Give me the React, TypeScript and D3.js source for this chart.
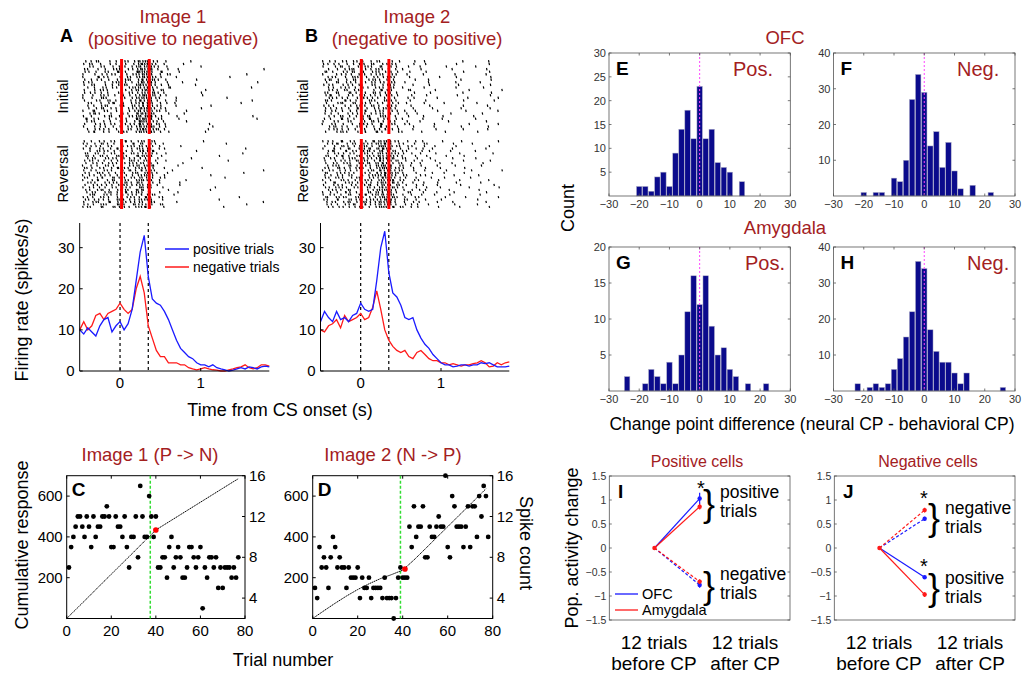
import React from "react";
import * as d3 from "d3";

const FONT = "'Liberation Sans', Arial, Helvetica, sans-serif";
const DARK_RED = "#a3201e";
const BLUE = "#1a1aff";
const RED = "#ff1a1a";
const NAVY = "#0b0b8c";
const GREEN = "#33dd33";
const MAGENTA = "#ff44ff";

// ---- A / B : firing rate curves (spikes/s), sampled every 50 ms
const rateTimes = [-0.5, -0.45, -0.4, -0.35, -0.3, -0.25, -0.2, -0.15, -0.1, -0.05, 0, 0.05, 0.1, 0.15, 0.2, 0.25, 0.3, 0.35, 0.4, 0.45, 0.5, 0.55, 0.6, 0.65, 0.7, 0.75, 0.8, 0.85, 0.9, 0.95, 1.0, 1.05, 1.1, 1.15, 1.2, 1.25, 1.3, 1.35, 1.4, 1.45, 1.5, 1.55, 1.6, 1.65, 1.7, 1.75, 1.8, 1.85];
const rateA_pos = [10, 9, 10.5, 9.5, 8.5, 11, 12.5, 13, 9.5, 11, 12, 10, 11.5, 15, 22, 29, 33, 23, 17.5, 16.5, 16, 14.5, 12.5, 10, 7.5, 5.5, 4.5, 3.5, 3, 2, 1.5, 1.5, 1, 1.5, 0.8, 0.5, 0.3, 0, 0.2, 0.5, 0.8, 0.5, 1, 0.8, 0.5, 1, 1.2, 1];
const rateA_neg = [10, 12, 10, 11, 13.5, 14, 12.5, 14, 14.5, 15, 16.5, 15, 14, 15, 20, 23, 19, 11, 8, 5, 3.5, 3.5, 2, 2, 2, 1.5, 1.5, 0.8, 0.5, 0.3, 0.5, 0.8, 0.5, 0.3, 0.2, 0, 0, 0.3, 0.5, 0.8, 1, 1.5, 0.8, 0.5, 0.8, 1.5, 1.5, 1.2];
const rateB_pos = [12, 14.5, 13, 12, 14.5, 12.5, 13, 12, 13.5, 14, 16.5, 15, 14.5, 15, 22, 30, 34, 24, 19, 18, 16, 13, 12.5, 13, 10, 8, 6.5, 5.5, 4, 3, 2, 1.5, 1.5, 1, 1.2, 1.5, 1.5, 1.2, 1.5, 1.5, 2, 1.8, 2, 1.5, 1, 1, 1, 1.2];
const rateB_neg = [10, 9.5, 11, 11.5, 12.5, 10.5, 13.5, 12, 12.5, 13, 14, 12.5, 13, 15.5, 19.5, 15, 10, 7.5, 6, 5, 4.5, 5, 3.5, 3, 4.5, 5, 4, 3, 2.5, 2.5, 2, 2, 1.5, 1.8, 1.5, 1.2, 1.5, 1.5, 1.8, 2, 2.5, 2, 1, 1.2, 2, 1.5, 2, 2.2];
const rateTicksY = [0, 10, 20, 30];
const rateTicksX = [0, 1];
const eventTimes = [0, 0.35];

// ---- raster density per 100 ms bin (spikes/s), read from the raster shading
const RASTER_BIN = 0.1;
const RASTER_TRIALS = 28;
const rasterBins = [-0.5, -0.4, -0.3, -0.2, -0.1, 0, 0.1, 0.2, 0.3, 0.4, 0.5, 0.6, 0.7, 0.8, 0.9, 1.0, 1.1, 1.2, 1.3, 1.4, 1.5, 1.6, 1.7];
const rasterA_initial = [12, 13, 13, 12, 12, 13, 15, 33, 30, 15, 8, 4, 2.5, 1.2, 1, 0.8, 0.8, 0.6, 0.6, 0.8, 0.8, 1, 1];
const rasterA_reversal = [14, 15, 15, 15, 16, 17, 16, 24, 20, 8, 4, 2.5, 1.5, 1, 0.8, 0.6, 0.6, 0.8, 0.6, 0.8, 1, 1, 0.8];
const rasterB_initial = [12, 13, 13, 13, 13, 14, 14, 18, 14, 9, 7, 5, 4, 3, 3, 2.5, 2.5, 2.5, 2.5, 2.5, 2.5, 2.5, 2.5];
const rasterB_reversal = [14, 14, 15, 15, 16, 16, 17, 30, 30, 16, 12, 9, 7, 5, 4, 4, 3.5, 3, 3, 2.5, 2, 2, 2];

// ---- C / D : spike count per trial and cumulative response
const trialTicks = [0, 20, 40, 60, 80];
const cumTicks = [200, 400, 600];
const spikeTicks = [4, 8, 12, 16];
const spikesC = [7, 9, 10, 11, 12, 12, 11, 10, 12, 11, 9, 12, 10, 11, 11, 12, 12, 13, 12, 9, 9, 12, 11, 11, 10, 12, 9, 7, 10, 10, 12, 8, 15, 12, 10, 10, 14, 12, 10, 12, 7, 7, 8, 8, 6, 9, 10, 7, 8, 9, 8, 6, 6, 7, 9, 9, 8, 7, 8, 9, 3, 7, 6, 8, 8, 7, 8, 5, 7, 5, 7, 7, 7, 6, 7, 6, 8];
const cumTrialsC = [0, 5, 10, 15, 20, 25, 30, 35, 40, 45, 50, 55, 60, 65, 70, 75, 77];
const cumC = [0, 54, 108, 163, 217, 271, 325, 380, 434, 468, 502, 536, 570, 604, 638, 672, 685];
const spikesD = [5, 4, 9, 7, 8, 7, 5, 8, 10, 9, 7, 8, 7, 7, 5, 7, 6, 6, 6, 7, 4, 6, 5, 5, 6, 4, 5, 5, 5, 5, 4, 6, 4, 4, 4, 2, 4, 6, 7, 6, 6, 6, 11, 9, 13, 10, 11, 11, 13, 8, 8, 11, 10, 10, 11, 12, 11, 11, 16, 9, 8, 14, 13, 11, 11, 11, 9, 11, 13, 9, 13, 13, 10, 14, 12, 15, 14, 10];
const cumTrialsD = [0, 5, 10, 15, 20, 25, 30, 35, 40, 45, 50, 55, 60, 65, 70, 75, 77];
const cumD = [0, 38, 75, 110, 142, 170, 195, 215, 237, 287, 341, 396, 450, 505, 559, 614, 636];
const cpC = 37.5;
const cpD = 39;
const markC = [40, 434];
const markD = [41, 243];

// ---- E-H : change point difference histograms
const binCenters = [-24, -22, -20, -18, -16, -14, -12, -10, -8, -6, -4, -2, 0, 2, 4, 6, 8, 10, 12, 14, 16, 18, 20, 22, 24, 26];
const histE = [0, 0, 2, 2, 1, 4, 5, 2, 9, 14, 18, 12, 23, 12, 14, 7, 6, 5, 0, 3, 0, 0, 0, 0, 0, 0];
const histF = [0, 0, 1, 0, 1, 1, 0, 5, 4, 10, 27, 34, 29, 14, 18, 8, 15, 7, 2, 0, 3, 0, 0, 1, 0, 0];
const histG = [2, 0, 0, 1, 3, 2, 1, 4, 1, 5, 11, 16, 12, 16, 9, 5, 6, 3, 2, 0, 1, 0, 0, 1, 0, 0];
const histH = [0, 2, 0, 1, 2, 1, 2, 6, 9, 15, 22, 36, 34, 17, 11, 8, 8, 5, 2, 5, 0, 0, 0, 0, 0, 1];
const histXTicks = [-30, -20, -10, 0, 10, 20, 30];
const histYTicks30 = [5, 10, 15, 20, 25, 30];
const histYTicks40 = [10, 20, 30, 40];
const histYTicks20 = [5, 10, 15, 20];

// ---- I / J : population activity change (before CP, after CP)
const popX = [1, 2];
const popYTicks = [-1.5, -1, -0.5, 0, 0.5, 1, 1.5];
const iOfcPos = [0, 1.03];
const iAmyPos = [0, 0.86];
const iOfcNeg = [0, -0.77];
const iAmyNeg = [0, -0.7];
const iErr = [0.12, 0.06, 0.06, 0.05];
const jOfcNeg = [0, 0.61];
const jAmyNeg = [0, 0.79];
const jOfcPos = [0, -0.61];
const jAmyPos = [0, -0.97];
const jErr = [0.04, 0.05, 0.03, 0.05];

const fmt = d3.format("");

const frac = (v: number) => v - Math.floor(v);
// fixed hash, only used to spread ticks inside their bin (no Math.random)
const spread = (a: number, b: number, c: number) => frac(Math.sin(a * 12.9898 + b * 78.233 + c * 37.719) * 43758.5453);

// spike counts per row/bin come from the rates table
function rasterPath(rates: number[], x: d3.ScaleLinear<number, number>, y0: number, y1: number, seed: number) {
  const rowH = (y1 - y0) / RASTER_TRIALS;
  const parts: string[] = [];
  for (let r = 0; r < RASTER_TRIALS; r++) {
    let carry = spread(r, seed, 0.5);
    rates.forEach((rate, b) => {
      carry += rate * RASTER_BIN;
      const n = Math.floor(carry);
      carry -= n;
      for (let k = 0; k < n; k++) {
        const u = spread(r + seed * 31, b, k + 1);
        const t = rasterBins[b] + (RASTER_BIN * (k + u)) / n;
        const yy = y0 + r * rowH + 0.2;
        parts.push(`M${x(t).toFixed(1)},${yy.toFixed(1)}l0.5,${(rowH - 0.3).toFixed(1)}`);
      }
    });
  }
  return parts.join("");
}

function Raster({ left, right, initial, reversal, labelX, seed }: any) {
  const x = d3.scaleLinear().domain([-0.5, 1.8]).range([left, right]);
  const blocks = [
    { rates: initial, y0: 60, y1: 133, label: "Initial" },
    { rates: reversal, y0: 140, y1: 208, label: "Reversal" },
  ];
  return (
    <g>
      {blocks.map((b, i) => (
        <g key={b.label}>
          <path d={rasterPath(b.rates, x, b.y0, b.y1, seed + i)} stroke="#000" strokeWidth={1.2} fill="none" />
          {eventTimes.map((t) => (
            <line key={t} x1={x(t)} x2={x(t)} y1={b.y0 - 1} y2={b.y1 + 1} stroke="#ff0000" strokeWidth={3} />
          ))}
          <text transform={`translate(${labelX},${(b.y0 + b.y1) / 2}) rotate(-90)`} textAnchor="middle" fontSize={14.5}>
            {b.label}
          </text>
        </g>
      ))}
    </g>
  );
}

function RatePanel({ left, right, pos, neg, legend }: any) {
  const x = d3.scaleLinear().domain([-0.5, 1.85]).range([left, right]);
  const y = d3.scaleLinear().domain([0, 36]).range([371, 223]);
  const line = d3.line<number>().x((_, i) => x(rateTimes[i])).y((d) => y(d));
  return (
    <g>
      {eventTimes.map((t) => (
        <line key={t} x1={x(t)} x2={x(t)} y1={y(36)} y2={y(0)} stroke="#000" strokeWidth={1.2} strokeDasharray="3,3" />
      ))}
      <path d={line(neg) || ""} stroke={RED} strokeWidth={1.3} fill="none" />
      <path d={line(pos) || ""} stroke={BLUE} strokeWidth={1.3} fill="none" />
      <line x1={x(-0.5)} x2={x(-0.5)} y1={y(36)} y2={y(0)} stroke="#000" />
      <line x1={x(-0.5)} x2={x(1.85)} y1={y(0)} y2={y(0)} stroke="#000" />
      {rateTicksY.map((v) => (
        <g key={v}>
          <line x1={x(-0.5)} x2={x(-0.5) + 3} y1={y(v)} y2={y(v)} stroke="#000" />
          <text x={x(-0.5) - 5} y={y(v) + 5} textAnchor="end" fontSize={15}>{v}</text>
        </g>
      ))}
      {rateTicksX.map((v) => (
        <g key={v}>
          <line x1={x(v)} x2={x(v)} y1={y(0)} y2={y(0) - 3} stroke="#000" />
          <text x={x(v)} y={y(0) + 17} textAnchor="middle" fontSize={15}>{v}</text>
        </g>
      ))}
      {legend && (
        <g fontSize={14}>
          <line x1={165} x2={189} y1={249} y2={249} stroke={BLUE} strokeWidth={1.5} />
          <text x={193} y={254}>positive trials</text>
          <line x1={165} x2={189} y1={267} y2={267} stroke={RED} strokeWidth={1.5} />
          <text x={193} y={272}>negative trials</text>
        </g>
      )}
    </g>
  );
}

function TrialPanel({ left, right, spikes, cumTrials, cum, cp, mark, letter }: any) {
  const top = 475.7;
  const bottom = 618.5;
  const x = d3.scaleLinear().domain([0, 80]).range([left, right]);
  const yL = d3.scaleLinear().domain([0, 700]).range([bottom, top]);
  const yR = d3.scaleLinear().domain([2, 16]).range([bottom, top]);
  const line = d3.line<number>().x((_, i) => x(cumTrials[i])).y((d) => yL(d));
  return (
    <g>
      <rect x={left} y={top} width={right - left} height={bottom - top} fill="none" stroke="#000" strokeWidth={1} />
      {trialTicks.map((v) => (
        <g key={v}>
          <line x1={x(v)} x2={x(v)} y1={bottom} y2={bottom - 3} stroke="#000" />
          <line x1={x(v)} x2={x(v)} y1={top} y2={top + 3} stroke="#000" />
          <text x={x(v)} y={bottom + 17} textAnchor="middle" fontSize={15}>{v}</text>
        </g>
      ))}
      {cumTicks.map((v) => (
        <g key={v}>
          <line x1={left} x2={left + 3} y1={yL(v)} y2={yL(v)} stroke="#000" />
          <text x={left - 4} y={yL(v) + 5} textAnchor="end" fontSize={15}>{v}</text>
        </g>
      ))}
      {spikeTicks.map((v) => (
        <g key={v}>
          <line x1={right} x2={right - 3} y1={yR(v)} y2={yR(v)} stroke="#000" />
          <text x={right + 4} y={yR(v) + 5} fontSize={15}>{v}</text>
        </g>
      ))}
      <line x1={x(cp)} x2={x(cp)} y1={top} y2={bottom} stroke={GREEN} strokeWidth={1.5} strokeDasharray="3,2" />
      <path d={line(cum) || ""} stroke="#000" strokeWidth={1} strokeDasharray="1.5,0.6" fill="none" />
      {spikes.map((s: number, i: number) => (
        <circle key={i} cx={x(i + 1)} cy={yR(s)} r={2.4} fill="#000" />
      ))}
      <circle cx={x(mark[0])} cy={yL(mark[1])} r={2.8} fill="#ff0000" />
      <text x={left + 5} y={top + 20} fontSize={19} fontWeight="bold">{letter}</text>
    </g>
  );
}

function Hist({ left, right, top, bottom, counts, yMax, yTicks, letter, tag, tagX }: any) {
  const x = d3.scaleLinear().domain([-30, 30]).range([left, right]);
  const y = d3.scaleLinear().domain([0, yMax]).range([bottom, top]);
  const bw = x(2) - x(0);
  return (
    <g>
      {binCenters.map((c, i) =>
        counts[i] > 0 ? (
          <rect key={c} x={x(c) - bw / 2 + 0.3} width={bw - 0.6} y={y(counts[i])} height={bottom - y(counts[i])} fill={NAVY} stroke="#b0b0c8" strokeWidth={0.5} />
        ) : null
      )}
      <line x1={x(0)} x2={x(0)} y1={top} y2={bottom} stroke={MAGENTA} strokeWidth={1} strokeDasharray="2,2" />
      <rect x={left} y={top} width={right - left} height={bottom - top} fill="none" stroke="#555" strokeWidth={0.8} />
      {histXTicks.map((v) => (
        <g key={v}>
          <line x1={x(v)} x2={x(v)} y1={bottom} y2={bottom - 2.5} stroke="#555" strokeWidth={0.8} />
          <line x1={x(v)} x2={x(v)} y1={top} y2={top + 2.5} stroke="#555" strokeWidth={0.8} />
          <text x={x(v)} y={bottom + 12} textAnchor="middle" fontSize={11} fill="#333">{fmt(v)}</text>
        </g>
      ))}
      {yTicks.map((v: number) => (
        <g key={v}>
          <line x1={left} x2={left + 2.5} y1={y(v)} y2={y(v)} stroke="#555" strokeWidth={0.8} />
          <line x1={right} x2={right - 2.5} y1={y(v)} y2={y(v)} stroke="#555" strokeWidth={0.8} />
          <text x={left - 3} y={y(v) + 4} textAnchor="end" fontSize={11} fill="#333">{v}</text>
        </g>
      ))}
      <text x={left + 7} y={top + 22} fontSize={19} fontWeight="bold">{letter}</text>
      <text x={tagX} y={top + 23} fontSize={20} fill={DARK_RED}>{tag}</text>
    </g>
  );
}

function PopPanel({ left, right, series, errs }: any) {
  const top = 476;
  const bottom = 620;
  const x = d3.scaleLinear().domain([0, 4]).range([left, right]);
  const y = d3.scaleLinear().domain([-1.5, 1.5]).range([bottom, top]);
  const line = d3.line<number>().x((_, i) => x(popX[i])).y((d) => y(d));
  return (
    <g>
      <rect x={left} y={top} width={right - left} height={bottom - top} fill="none" stroke="#555" strokeWidth={0.8} />
      {popYTicks.map((v) => (
        <g key={v}>
          <line x1={left} x2={left + 2.5} y1={y(v)} y2={y(v)} stroke="#555" strokeWidth={0.8} />
          <line x1={right} x2={right - 2.5} y1={y(v)} y2={y(v)} stroke="#555" strokeWidth={0.8} />
          <text x={left - 3} y={y(v) + 4} textAnchor="end" fontSize={10.5} fill="#333">{fmt(v)}</text>
        </g>
      ))}
      {series.map((s: any, i: number) => (
        <g key={i}>
          <path d={line(s.vals) || ""} stroke={s.color} strokeWidth={1.2} fill="none" strokeDasharray={s.dashed ? "3,2" : undefined} />
          <line x1={x(popX[1])} x2={x(popX[1])} y1={y(s.vals[1] - errs[i])} y2={y(s.vals[1] + errs[i])} stroke={s.color} strokeWidth={1.2} />
          <circle cx={x(popX[1])} cy={y(s.vals[1])} r={2.2} fill={s.color} />
        </g>
      ))}
      <circle cx={x(popX[0])} cy={y(0)} r={2.2} fill={RED} />
    </g>
  );
}

export default function App() {
  return (
    <svg width={1029} height={675} style={{ position: "absolute", left: 0, top: 0, background: "#fff" }} fontFamily={FONT}>
      {/* A / B headers */}
      <text x={173} y={23} textAnchor="middle" fontSize={18.5} fill={DARK_RED}>Image 1</text>
      <text x={173} y={45} textAnchor="middle" fontSize={18.5} fill={DARK_RED}>(positive to negative)</text>
      <text x={60} y={42} fontSize={18} fontWeight="bold">A</text>
      <text x={417} y={23} textAnchor="middle" fontSize={18.5} fill={DARK_RED}>Image 2</text>
      <text x={417} y={45} textAnchor="middle" fontSize={18.5} fill={DARK_RED}>(negative to positive)</text>
      <text x={305} y={42} fontSize={18} fontWeight="bold">B</text>

      <Raster left={82} right={264} initial={rasterA_initial} reversal={rasterA_reversal} labelX={68} seed={1} />
      <Raster left={322} right={503} initial={rasterB_initial} reversal={rasterB_reversal} labelX={308} seed={5} />

      <RatePanel left={79.7} right={269.3} pos={rateA_pos} neg={rateA_neg} legend />
      <RatePanel left={320.5} right={509.3} pos={rateB_pos} neg={rateB_neg} />
      <text transform="translate(28,300) rotate(-90)" textAnchor="middle" fontSize={18}>Firing rate (spikes/s)</text>
      <text x={280} y={416} textAnchor="middle" fontSize={18}>Time from CS onset (s)</text>

      {/* C / D */}
      <text x={150} y={461} textAnchor="middle" fontSize={18.5} fill={DARK_RED}>Image 1 (P -&gt; N)</text>
      <text x={393} y={461} textAnchor="middle" fontSize={18.5} fill={DARK_RED}>Image 2 (N -&gt; P)</text>
      <TrialPanel left={66.7} right={245} spikes={spikesC} cumTrials={cumTrialsC} cum={cumC} cp={cpC} mark={markC} letter="C" />
      <TrialPanel left={312.7} right={492.7} spikes={spikesD} cumTrials={cumTrialsD} cum={cumD} cp={cpD} mark={markD} letter="D" />
      <text transform="translate(28,545) rotate(-90)" textAnchor="middle" fontSize={18}>Cumulative response</text>
      <text transform="translate(520,543) rotate(90)" textAnchor="middle" fontSize={18}>Spike count</text>
      <text x={283} y={666} textAnchor="middle" fontSize={18}>Trial number</text>

      {/* E-H */}
      <text x={785} y={44} textAnchor="middle" fontSize={18.5} fill={DARK_RED}>OFC</text>
      <text x={785} y={234} textAnchor="middle" fontSize={18.5} fill={DARK_RED}>Amygdala</text>
      <Hist left={609} right={790.3} top={53} bottom={196} counts={histE} yMax={30} yTicks={histYTicks30} letter="E" tag="Pos." tagX={733} />
      <Hist left={833.5} right={1015} top={53} bottom={196} counts={histF} yMax={40} yTicks={histYTicks40} letter="F" tag="Neg." tagX={957} />
      <Hist left={609} right={790.3} top={247} bottom={391} counts={histG} yMax={20} yTicks={histYTicks20} letter="G" tag="Pos." tagX={745} />
      <Hist left={833.5} right={1015} top={247} bottom={391} counts={histH} yMax={40} yTicks={histYTicks40} letter="H" tag="Neg." tagX={967} />
      <text transform="translate(574,208) rotate(-90)" textAnchor="middle" fontSize={18}>Count</text>
      <text x={812} y={430} textAnchor="middle" fontSize={17.5}>Change point difference (neural CP - behavioral CP)</text>

      {/* I / J */}
      <text x={697} y={467} textAnchor="middle" fontSize={16} fill={DARK_RED}>Positive cells</text>
      <text x={928} y={467} textAnchor="middle" fontSize={16} fill={DARK_RED}>Negative cells</text>
      <PopPanel
        left={609.3}
        right={790}
        errs={iErr}
        series={[
          { vals: iOfcPos, color: BLUE, dashed: false },
          { vals: iAmyPos, color: RED, dashed: false },
          { vals: iOfcNeg, color: BLUE, dashed: true },
          { vals: iAmyNeg, color: RED, dashed: true },
        ]}
      />
      <PopPanel
        left={834.3}
        right={1015}
        errs={jErr}
        series={[
          { vals: jOfcNeg, color: BLUE, dashed: true },
          { vals: jAmyNeg, color: RED, dashed: true },
          { vals: jOfcPos, color: BLUE, dashed: false },
          { vals: jAmyPos, color: RED, dashed: false },
        ]}
      />
      <text x={618} y={498} fontSize={19} fontWeight="bold">I</text>
      <text x={843} y={498} fontSize={19} fontWeight="bold">J</text>
      <text transform="translate(578,548) rotate(-90)" textAnchor="middle" fontSize={18}>Pop. activity change</text>

      <text x={701} y={495} textAnchor="middle" fontSize={20}>*</text>
      <text x={924} y={505} textAnchor="middle" fontSize={20}>*</text>
      <text x={924} y={573} textAnchor="middle" fontSize={20}>*</text>

      <g fontSize={17.5}>
        <text x={703} y={516} fontSize={36}>{"}"}</text>
        <text x={720} y={498}>positive</text>
        <text x={720} y={517}>trials</text>
        <text x={703} y={598} fontSize={36}>{"}"}</text>
        <text x={720} y={580}>negative</text>
        <text x={720} y={599}>trials</text>
        <text x={928} y={530} fontSize={36}>{"}"}</text>
        <text x={945} y={514}>negative</text>
        <text x={945} y={533}>trials</text>
        <text x={928} y={600} fontSize={36}>{"}"}</text>
        <text x={945} y={584}>positive</text>
        <text x={945} y={603}>trials</text>
      </g>

      <g fontSize={14.5}>
        <line x1={615} x2={638} y1={594} y2={594} stroke={BLUE} strokeWidth={1.3} />
        <text x={642} y={599}>OFC</text>
        <line x1={615} x2={638} y1={610} y2={610} stroke={RED} strokeWidth={1.3} />
        <text x={642} y={615}>Amygdala</text>
      </g>

      <g fontSize={19} textAnchor="middle">
        <text x={654} y={649}>12 trials</text>
        <text x={654} y={670}>before CP</text>
        <text x={745} y={649}>12 trials</text>
        <text x={745} y={670}>after CP</text>
        <text x={879} y={649}>12 trials</text>
        <text x={879} y={670}>before CP</text>
        <text x={970} y={649}>12 trials</text>
        <text x={970} y={670}>after CP</text>
      </g>
    </svg>
  );
}
